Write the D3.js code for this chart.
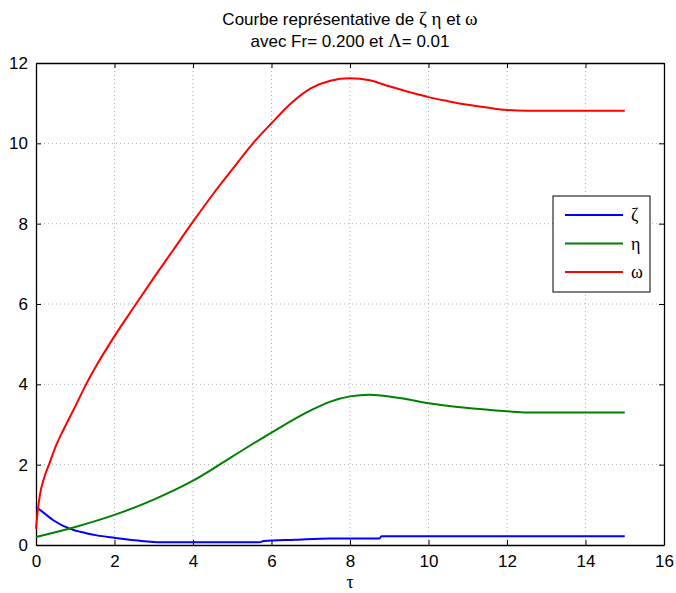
<!DOCTYPE html>
<html>
<head>
<meta charset="utf-8">
<script src="https://cdn.jsdelivr.net/npm/d3@7"></script>
<style>
  body { margin: 0; background: #fff; }
  svg { display: block; }
</style>
</head>
<body>
<div id="chart"></div>
<script>
// values
const xTicks = [0, 2, 4, 6, 8, 10, 12, 14, 16]
const yTicks = [0, 2, 4, 6, 8, 10, 12]

const zetaT = [0, 0.2, 0.45, 0.87, 1.25, 1.55, 2.0, 2.6, 3.2, 5.7, 5.8, 6.6, 7.5, 8.75, 8.8, 15]
const zetaV = [0.95, 0.8, 0.61, 0.4, 0.3, 0.24, 0.18, 0.11, 0.07, 0.07, 0.1, 0.13, 0.16, 0.16, 0.22, 0.22]

const etaT = [0, 1, 2, 3, 4, 5, 6, 7, 7.5, 8, 8.5, 9, 9.5, 10, 11, 12, 12.5, 15]
const etaV = [0.2, 0.45, 0.75, 1.13, 1.6, 2.2, 2.8, 3.35, 3.57, 3.7, 3.74, 3.7, 3.62, 3.53, 3.41, 3.33, 3.3, 3.3]

const omegaT = [0, 0.05, 0.1, 0.2, 0.35, 0.5, 0.7, 1.0, 1.25, 1.5, 2.0, 2.5, 3.0, 3.5, 4.0, 4.5, 5.0, 5.5, 6.0, 6.5, 7.0, 7.5, 8.0, 8.5, 9.0, 9.5, 10.0, 10.5, 11.0, 11.5, 12.0, 12.5, 15]
const omegaV = [0.4, 0.9, 1.25, 1.65, 2.05, 2.45, 2.87, 3.45, 3.95, 4.4, 5.2, 5.93, 6.65, 7.35, 8.05, 8.72, 9.35, 9.97, 10.5, 11.0, 11.37, 11.56, 11.62, 11.57, 11.42, 11.28, 11.15, 11.05, 10.96, 10.89, 10.83, 10.81, 10.81]

const seriesNames = ["ζ", "η", "ω"]
const seriesColors = ["#0000ff", "#008000", "#ff0000"]

const series = [
  zetaT.map((t, i) => ({ t: t, v: zetaV[i] })),
  etaT.map((t, i) => ({ t: t, v: etaV[i] })),
  omegaT.map((t, i) => ({ t: t, v: omegaV[i] }))
]

const W = 676, H = 593
const m = { top: 63, right: 12, bottom: 48, left: 36 }
const w = W - m.left - m.right
const h = H - m.top - m.bottom

const svg = d3.select("#chart").append("svg")
  .attr("width", W).attr("height", H)
  .style("font-family", "'Liberation Sans', Arial, sans-serif")

const g = svg.append("g").attr("transform", `translate(${m.left},${m.top})`)

const x = d3.scaleLinear().domain([0, 16]).range([0, w])
const y = d3.scaleLinear().domain([0, 12]).range([h, 0])

// dotted grid
g.selectAll(".vgrid").data(xTicks.slice(1, -1)).join("line")
  .attr("x1", d => x(d)).attr("x2", d => x(d)).attr("y1", 0).attr("y2", h)
  .attr("stroke", "#b0b0b0").attr("stroke-width", 1).attr("stroke-dasharray", "1,3")
g.selectAll(".hgrid").data(yTicks.slice(1, -1)).join("line")
  .attr("x1", 0).attr("x2", w).attr("y1", d => y(d)).attr("y2", d => y(d))
  .attr("stroke", "#b0b0b0").attr("stroke-width", 1).attr("stroke-dasharray", "1,3")

// axes with inward ticks, like matlab
const tickLen = 5
const axB = g.append("g").attr("transform", `translate(0,${h})`)
  .call(d3.axisBottom(x).tickValues(xTicks).tickSizeInner(-tickLen).tickSizeOuter(0).tickPadding(10))
const axL = g.append("g")
  .call(d3.axisLeft(y).tickValues(yTicks).tickSizeInner(-tickLen).tickSizeOuter(0).tickPadding(8))
const axT = g.append("g")
  .call(d3.axisTop(x).tickValues(xTicks).tickSizeInner(-tickLen).tickSizeOuter(0).tickFormat(""))
const axR = g.append("g").attr("transform", `translate(${w},0)`)
  .call(d3.axisRight(y).tickValues(yTicks).tickSizeInner(-tickLen).tickSizeOuter(0).tickFormat(""))

;[axB, axL, axT, axR].forEach(a => {
  a.select(".domain").attr("stroke", "#000").attr("stroke-width", 1.3)
  a.selectAll(".tick line").attr("stroke", "#000")
  a.selectAll("text").style("font-size", "17px").style("font-family", "'Liberation Sans', Arial, sans-serif").attr("fill", "#000")
})

// curves
const line = d3.line().x(d => x(d.t)).y(d => y(d.v)).curve(d3.curveMonotoneX)
g.selectAll(".series").data(series).join("path")
  .attr("class", "series")
  .attr("d", line)
  .attr("fill", "none")
  .attr("stroke", (d, i) => seriesColors[i])
  .attr("stroke-width", 2)

// legend box
const lg = svg.append("g").attr("transform", "translate(553,196)")
lg.append("rect").attr("width", 97).attr("height", 96)
  .attr("fill", "#fff").attr("stroke", "#000").attr("stroke-width", 1)
seriesNames.forEach((name, i) => {
  const yy = 19 + i * 28.5
  lg.append("line").attr("x1", 12).attr("x2", 70).attr("y1", yy).attr("y2", yy)
    .attr("stroke", seriesColors[i]).attr("stroke-width", 2)
  lg.append("text").attr("x", 78).attr("y", yy + 6)
    .style("font-family", "'Liberation Serif', 'Times New Roman', serif").style("font-size", "18px")
    .text(name)
})

// title
const title = svg.append("text").attr("text-anchor", "middle").style("font-size", "17px")
const t1 = title.append("tspan").attr("x", 350).attr("y", 25)
t1.append("tspan").text("Courbe représentative de ")
t1.append("tspan").style("font-family", "'Liberation Serif', serif").style("font-size", "19px").text("ζ η")
t1.append("tspan").text(" et ")
t1.append("tspan").style("font-family", "'Liberation Serif', serif").style("font-size", "19px").text("ω")
const t2 = title.append("tspan").attr("x", 350).attr("y", 47)
t2.append("tspan").text("avec Fr= 0.200 et ")
t2.append("tspan").style("font-family", "'Liberation Serif', serif").style("font-size", "19px").text("Λ")
t2.append("tspan").text("= 0.01")

// x label
svg.append("text").attr("x", m.left + w / 2).attr("y", 588).attr("text-anchor", "middle")
  .style("font-family", "'Liberation Serif', serif").style("font-size", "18px").text("τ")
</script>
</body>
</html>
